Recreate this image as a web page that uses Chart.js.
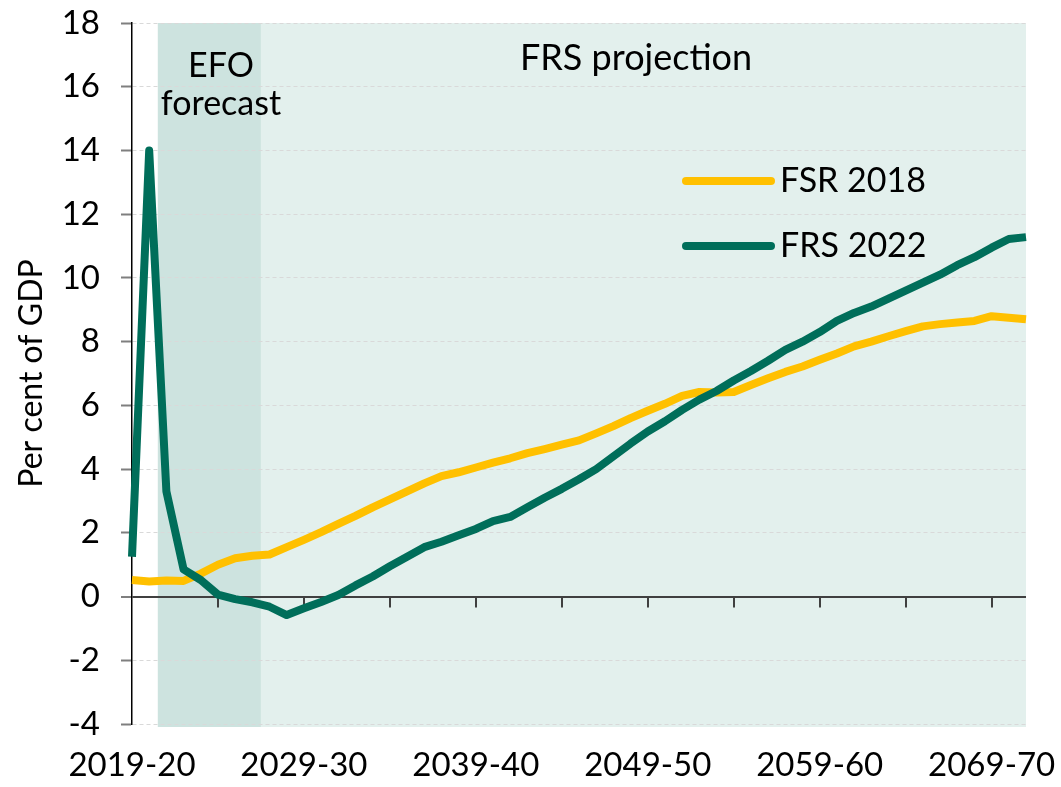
<!DOCTYPE html>
<html>
<head>
<meta charset="utf-8">
<script src="https://cdn.jsdelivr.net/npm/chart.js@4.4.1/dist/chart.umd.min.js"></script>
<style>
  html, body { margin: 0; padding: 0; background: #fff; }
  #wrap { width: 1061px; height: 787px; }
</style>
</head>
<body>
<div id="wrap"><canvas id="chart"></canvas></div>
<script>
// Categorías (años fiscales)
const years = [
  '2019-20', '2020-21', '2021-22', '2022-23', '2023-24', '2024-25', '2025-26', '2026-27', '2027-28', '2028-29',
  '2029-30', '2030-31', '2031-32', '2032-33', '2033-34', '2034-35', '2035-36', '2036-37', '2037-38', '2038-39',
  '2039-40', '2040-41', '2041-42', '2042-43', '2043-44', '2044-45', '2045-46', '2046-47', '2047-48', '2048-49',
  '2049-50', '2050-51', '2051-52', '2052-53', '2053-54', '2054-55', '2055-56', '2056-57', '2057-58', '2058-59',
  '2059-60', '2060-61', '2061-62', '2062-63', '2063-64', '2064-65', '2065-66', '2066-67', '2067-68', '2068-69',
  '2069-70', '2070-71', '2071-72'
];

// Series (per cent of GDP)
const fsr2018 = [
  0.52, 0.47, 0.50, 0.49, 0.72, 1.00, 1.20, 1.28, 1.32, 1.55,
  1.78, 2.02, 2.28, 2.53, 2.80, 3.05, 3.30, 3.55, 3.78, 3.90,
  4.05, 4.20, 4.34, 4.50, 4.63, 4.77, 4.90, 5.12, 5.35, 5.60,
  5.83, 6.05, 6.30, 6.42, 6.40, 6.42, 6.64, 6.85, 7.05, 7.22,
  7.43, 7.63, 7.85, 8.00, 8.17, 8.33, 8.48, 8.55, 8.60, 8.65,
  8.80, 8.75, 8.70
];
const frs2022 = [
  1.25, 14.0, 3.30, 0.85, 0.52, 0.06, -0.08, -0.18, -0.32, -0.58,
  -0.37, -0.17, 0.05, 0.35, 0.63, 0.95, 1.25, 1.55, 1.72, 1.92,
  2.12, 2.37, 2.50, 2.80, 3.10, 3.38, 3.68, 4.00, 4.40, 4.80,
  5.18, 5.50, 5.86, 6.18, 6.45, 6.78, 7.08, 7.40, 7.74, 8.00,
  8.30, 8.65, 8.90, 9.10, 9.35, 9.60, 9.85, 10.10, 10.40, 10.65,
  10.95, 11.22, 11.28
];

// Periodos sombreados
const efoPeriod = ['2021-22', '2026-27'];
const frsPeriod = ['2027-28', '2071-72'];

const FONT = 'Lato, "Open Sans", sans-serif';
Chart.defaults.font.family = FONT;
Chart.defaults.color = '#000';

// Fondo de los periodos (antes de la cuadrícula)
const bandsPlugin = {
  id: 'bands',
  beforeDraw(chart) {
    const { ctx, chartArea: a, scales: { x } } = chart;
    const step = x.getPixelForValue(1) - x.getPixelForValue(0);
    const band = (period, color) => {
      const l = Math.max(x.getPixelForValue(years.indexOf(period[0])) - step / 2, a.left);
      const r = Math.min(x.getPixelForValue(years.indexOf(period[1])) + step / 2, a.right);
      ctx.fillStyle = color;
      ctx.fillRect(l, a.top, r - l, a.bottom - a.top + 3);
    };
    ctx.save();
    band(efoPeriod, '#cde3df');
    band(frsPeriod, '#e3f0ed');
    ctx.restore();
  },
  beforeDatasetsDraw(chart) {
    // marcas del eje en la línea de cero
    const { ctx, scales: { x, y } } = chart;
    const y0 = y.getPixelForValue(0);
    ctx.save();
    ctx.strokeStyle = '#404040';
    ctx.lineWidth = 2;
    years.forEach((yr, i) => {
      if (i === 0 || i % 5 !== 0) return;
      const px = Math.round(x.getPixelForValue(i));
      ctx.beginPath();
      ctx.moveTo(px, y0);
      ctx.lineTo(px, y0 + 11);
      ctx.stroke();
    });
    ctx.restore();
  },
  afterDraw(chart) {
    const { ctx } = chart;
    ctx.save();
    ctx.fillStyle = '#000';
    ctx.textAlign = 'center';
    ctx.textBaseline = 'middle';
    ctx.font = '34px ' + FONT;
    ctx.fillText('EFO', 221, 66);
    ctx.fillText('forecast', 221, 104);
    ctx.font = '36px ' + FONT;
    ctx.fillText('FRS projection', 636, 58);

    // leyenda
    ctx.font = '34px ' + FONT;
    const rows = [181, 246];
    chart.data.datasets.forEach((ds, i) => {
      ctx.strokeStyle = ds.borderColor;
      ctx.lineWidth = 8;
      ctx.lineCap = 'round';
      ctx.beginPath();
      ctx.moveTo(686, rows[i]);
      ctx.lineTo(771, rows[i]);
      ctx.stroke();
      ctx.textAlign = 'left';
      ctx.fillText(ds.label, 780, rows[i]);
    });
    ctx.restore();
  }
};

const ctx = document.getElementById('chart').getContext('2d');
new Chart(ctx, {
  type: 'line',
  data: {
    labels: years,
    datasets: [
      {
        label: 'FSR 2018',
        data: fsr2018,
        borderColor: '#ffc000',
        borderWidth: 8,
        pointRadius: 0,
        borderJoinStyle: 'round',
        tension: 0,
        order: 1
      },
      {
        label: 'FRS 2022',
        data: frs2022,
        borderColor: '#006e5a',
        borderWidth: 8,
        pointRadius: 0,
        borderJoinStyle: 'round',
        tension: 0,
        order: 0
      }
    ]
  },
  options: {
    responsive: true,
    maintainAspectRatio: false,
    animation: false,
    layout: { padding: { top: 23, right: 35, bottom: 0, left: 0 } },
    plugins: {
      legend: { display: false },
      tooltip: { enabled: false }
    },
    scales: {
      x: {
        offset: false,
        grid: { display: false, drawTicks: false },
        border: { display: false },
        ticks: {
          autoSkip: false,
          maxRotation: 0,
          padding: 22,
          font: { size: 33 },
          callback: (v, i) => (i % 10 === 0 ? years[i] : null)
        },
        afterFit: (s) => { s.height = 63; s.paddingLeft = 0; s.paddingRight = 0; }
      },
      y: {
        min: -4,
        max: 18,
        ticks: { stepSize: 2, padding: 21, font: { size: 33 } },
        grid: {
          color: (c) => (c.tick && c.tick.value === 0 ? '#404040' : '#d9d9d9'),
          lineWidth: (c) => (c.tick && c.tick.value === 0 ? 2 : 1),
          tickColor: '#7f7f7f',
          tickLength: 11,
          tickWidth: 2
        },
        border: {
          color: '#000',
          width: 1.5,
          dash: (c) => (c.tick && c.tick.value === 0 ? [] : [4, 3])
        },
        title: {
          display: true,
          text: 'Per cent of GDP',
          font: { size: 32 },
          padding: { top: 12, bottom: 0 }
        },
        afterFit: (s) => { s.width = 132; s.paddingTop = 0; s.paddingBottom = 0; }
      }
    }
  },
  plugins: [bandsPlugin]
});
</script>
</body>
</html>
